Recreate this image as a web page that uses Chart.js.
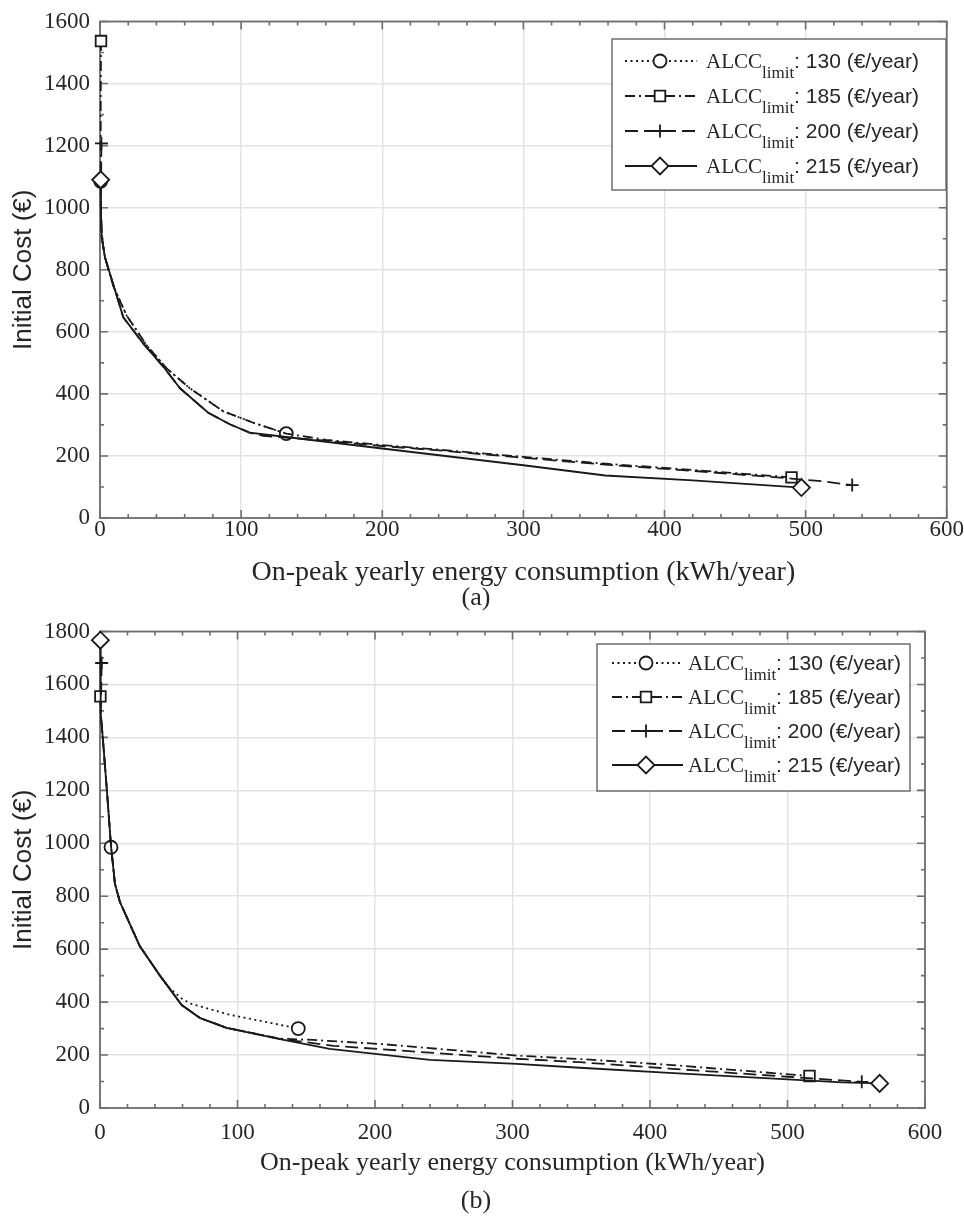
<!DOCTYPE html>
<html>
<head>
<meta charset="utf-8">
<title>Initial cost vs on-peak energy</title>
<script src="https://cdn.jsdelivr.net/npm/chart.js@4.4.1/dist/chart.umd.min.js"></script>
<style>
  body { margin: 0; background: #fff; width: 964px; height: 1216px; position: relative; overflow: hidden; }
  .wrap { position: absolute; left: 0; width: 964px; }
  #wrapA { top: 0; height: 590px; }
  #wrapB { top: 610px; height: 577px; }
  .cap { position: absolute; font-family: 'Liberation Serif', 'Times New Roman', serif; font-size: 26px;
         line-height: 1; color: #262626; transform: translate(-50%, -50%); }
</style>
</head>
<body>
<div class="wrap" id="wrapA"><canvas id="chartA"></canvas></div>
<div class="cap" style="left:476px; top:597px">(a)</div>
<div class="wrap" id="wrapB"><canvas id="chartB"></canvas></div>
<div class="cap" style="left:476px; top:1200px">(b)</div>

<script>
// ALCC limits (€/year), one curve each
const limits = [130, 185, 200, 215];

// (a) on-peak energy (kWh/year) / initial cost (€)
const a130X = [0.5, 0.6, 1.2, 3.5, 9.4, 18.9, 33, 47.2, 63.7, 87.3, 108.6, 132];
const a130Y = [1085, 1000, 907, 840, 748, 652, 557, 482, 418, 344, 307, 272];
const a185X = [0.7, 0.5, 0.5, 0.6, 1.2, 3.5, 9.4, 18.9, 33, 47.2, 63.7, 87.3, 108.6, 132, 160, 200, 248, 300, 358, 420, 490];
const a185Y = [1537, 1300, 1100, 1000, 907, 840, 748, 652, 557, 482, 418, 344, 307, 272, 252, 235, 217, 197, 175, 155, 131];
const a200X = [1, 0.8, 0.6, 1.2, 3.5, 16.5, 30.7, 44.8, 56.7, 76.7, 92, 106, 115.6, 160, 200, 248, 300, 358, 420, 490, 513, 533];
const a200Y = [1207, 1100, 1000, 907, 840, 647, 562, 488, 418, 339, 302, 275, 265, 249, 232, 215, 194, 172, 152, 127, 118, 106];
const a215X = [0.5, 0.6, 1.2, 3.5, 16.5, 30.7, 44.8, 56.7, 76.7, 92, 106, 132, 200, 300, 358, 420, 497];
const a215Y = [1090, 1000, 907, 840, 647, 562, 488, 418, 339, 302, 275, 261, 224, 170, 137, 121, 98];

// (b) on-peak energy (kWh/year) / initial cost (€)
const b130X = [8, 10.9, 14.5, 29, 43.6, 50.9, 59.4, 65.5, 94.5, 118.8, 144.2];
const b130Y = [985, 846, 778, 611, 500, 451, 414, 395, 352, 327, 300];
const b185X = [0.3, 0.5, 2, 5, 8, 10.9, 14.5, 29, 43.6, 59.4, 72.7, 92, 130.9, 155, 206, 303, 349, 414, 516];
const b185Y = [1555, 1490, 1400, 1200, 990, 846, 778, 611, 500, 389, 340, 303, 262, 257, 241, 198, 185, 163, 121];
const b200X = [1.2, 0.8, 0.5, 2, 5, 8, 10.9, 14.5, 29, 43.6, 59.4, 72.7, 92, 130.9, 169.7, 240, 303, 349, 414, 500, 554];
const b200Y = [1681, 1550, 1490, 1400, 1200, 990, 846, 778, 611, 500, 389, 340, 303, 261, 235, 209, 186, 173, 149, 118, 99];
const b215X = [0.3, 0.5, 2, 5, 8, 10.9, 14.5, 29, 43.6, 59.4, 72.7, 92, 130.9, 167, 240, 303, 349, 414, 500, 540, 567];
const b215Y = [1767, 1490, 1400, 1200, 990, 846, 778, 611, 500, 389, 340, 303, 260, 223, 182, 167, 152, 133, 108, 97, 93];

// axes
const xMax = 600, xStep = 100, xMinor = 20;
const aYMax = 1600, bYMax = 1800, yStep = 200, yMinor = 100;

const SERIF = "'Liberation Serif', 'Times New Roman', serif";
const SANS = "'Liberation Sans', Arial, sans-serif";
const INK = '#1a1a1a';
const AXIS = '#6e6e6e';

// line style per limit: dotted/circle, dash-dot/square, dashed/plus, solid/diamond
const styles = [
  { dash: [2, 3.5], point: 'circle', r: 6.5 },
  { dash: [10, 4, 2, 4], point: 'rect', r: 7.5 },
  { dash: [13, 6], point: 'cross', r: 6.5 },
  { dash: [], point: 'rectRot', r: 8.5 }
];

function pairs(xs, ys) {
  return xs.map((x, i) => ({ x: x, y: ys[i] }));
}

// box round the plot with inward major/minor ticks on all four sides
const framePlugin = {
  id: 'frame',
  beforeDatasetsDraw(chart) {
    const { ctx, chartArea: a, scales: { x, y } } = chart;
    ctx.save();
    ctx.strokeStyle = AXIS;
    ctx.lineWidth = 1.6;
    ctx.beginPath();
    for (let v = x.min; v <= x.max; v += xMinor) {
      const p = x.getPixelForValue(v);
      const len = v % xStep === 0 ? 8 : 4;
      ctx.moveTo(p, a.bottom); ctx.lineTo(p, a.bottom - len);
      ctx.moveTo(p, a.top); ctx.lineTo(p, a.top + len);
    }
    for (let v = y.min; v <= y.max; v += yMinor) {
      const p = y.getPixelForValue(v);
      const len = v % yStep === 0 ? 8 : 4;
      ctx.moveTo(a.left, p); ctx.lineTo(a.left + len, p);
      ctx.moveTo(a.right, p); ctx.lineTo(a.right - len, p);
    }
    ctx.stroke();
    ctx.lineWidth = 1.8;
    ctx.strokeRect(a.left, a.top, a.right - a.left, a.bottom - a.top);
    ctx.restore();
  }
};

// legend with ALCC subscript text
const legendPlugin = {
  id: 'alccLegend',
  afterDatasetsDraw(chart, args, o) {
    const ctx = chart.ctx;
    ctx.save();
    ctx.fillStyle = '#fff';
    ctx.fillRect(o.x, o.y, o.w, o.h);
    ctx.strokeStyle = AXIS;
    ctx.lineWidth = 1.5;
    ctx.strokeRect(o.x, o.y, o.w, o.h);
    chart.data.datasets.forEach((ds, i) => {
      const yc = o.y + o.first + i * o.step;
      ctx.strokeStyle = INK;
      ctx.lineWidth = 1.8;
      ctx.setLineDash(ds.borderDash);
      ctx.beginPath();
      ctx.moveTo(o.lineX0, yc);
      ctx.lineTo(o.lineX1, yc);
      ctx.stroke();
      ctx.setLineDash([]);
      ctx.fillStyle = '#fff';
      Chart.helpers.drawPoint(ctx, { pointStyle: ds.pointStyle, radius: styles[i].r, borderWidth: 1.8, rotation: 0 }, o.markX, yc);

      const base = yc + 6.5;
      let tx = o.textX;
      ctx.fillStyle = '#262626';
      ctx.textBaseline = 'alphabetic';
      ctx.textAlign = 'left';
      ctx.font = '21px ' + SERIF;
      ctx.fillText('ALCC', tx, base);
      tx += ctx.measureText('ALCC').width;
      ctx.font = '17px ' + SERIF;
      ctx.fillText('limit', tx, base + 10);
      tx += ctx.measureText('limit').width;
      ctx.font = '21px ' + SANS;
      ctx.fillText(': ' + limits[i] + ' (€/year)', tx, base);
    });
    ctx.restore();
  }
};

function makeChart(canvasId, series, g) {
  const datasets = series.map((s, i) => ({
    label: 'ALCC_limit: ' + limits[i] + ' (€/year)',
    data: pairs(s[0], s[1]),
    order: series.length - 1 - i,
    borderColor: INK,
    borderWidth: 1.8,
    borderDash: styles[i].dash,
    pointStyle: styles[i].point,
    pointRadius: (c) => (c.dataIndex === 0 || c.dataIndex === c.dataset.data.length - 1) ? styles[i].r : 0,
    pointBackgroundColor: '#fff',
    pointBorderColor: INK,
    pointBorderWidth: 1.8,
    tension: 0,
    fill: false,
    clip: false
  }));

  return new Chart(document.getElementById(canvasId), {
    type: 'line',
    data: { datasets: datasets },
    plugins: [framePlugin, legendPlugin],
    options: {
      responsive: true,
      maintainAspectRatio: false,
      animation: false,
      events: [],
      layout: { padding: g.pad },
      plugins: {
        legend: { display: false },
        tooltip: { enabled: false },
        alccLegend: g.legend
      },
      scales: {
        x: {
          type: 'linear', min: 0, max: xMax,
          afterFit: (s) => { s.height = g.xH; },
          ticks: {
            stepSize: xStep, maxRotation: 0, padding: g.tickPad, color: '#262626',
            font: { family: SERIF, size: 23, lineHeight: 1 },
            callback: (v) => String(v)
          },
          grid: { color: '#e3e3e3', lineWidth: 1.5, drawTicks: false },
          border: { display: false },
          title: {
            display: true, text: 'On-peak yearly energy consumption (kWh/year)', color: '#262626',
            font: { family: SERIF, size: g.xTitleSize, lineHeight: g.xTitleLH },
            padding: { top: 0, bottom: g.xTitlePad }
          }
        },
        y: {
          type: 'linear', min: 0, max: g.yMax,
          afterFit: (s) => { s.width = 100; },
          ticks: {
            stepSize: yStep, padding: 10, color: '#262626',
            font: { family: SERIF, size: 23, lineHeight: 1 },
            callback: (v) => String(v)
          },
          grid: { color: '#e3e3e3', lineWidth: 1.5, drawTicks: false },
          border: { display: false },
          title: {
            display: true, text: 'Initial Cost (€)', color: '#262626',
            font: { family: SANS, size: 26, lineHeight: 1 },
            padding: { top: 11, bottom: 0 }
          }
        }
      }
    }
  });
}

makeChart('chartA',
  [[a130X, a130Y], [a185X, a185Y], [a200X, a200Y], [a215X, a215Y]],
  {
    pad: { left: 0, top: 16, right: 17, bottom: 0 }, xH: 72, yMax: aYMax, tickPad: 0,
    xTitleSize: 28, xTitleLH: 0.8, xTitlePad: 6,
    legend: { x: 612, y: 39, w: 334, h: 151, first: 22, step: 35, lineX0: 625, lineX1: 697, markX: 660, textX: 706 }
  });

makeChart('chartB',
  [[b130X, b130Y], [b185X, b185Y], [b200X, b200Y], [b215X, b215Y]],
  {
    pad: { left: 0, top: 12, right: 39, bottom: 0 }, xH: 79, yMax: bYMax, tickPad: 13,
    xTitleSize: 26, xTitleLH: 1, xTitlePad: 11,
    legend: { x: 597, y: 34, w: 313, h: 147, first: 19, step: 34, lineX0: 612, lineX1: 683, markX: 646, textX: 688 }
  });
</script>
</body>
</html>
